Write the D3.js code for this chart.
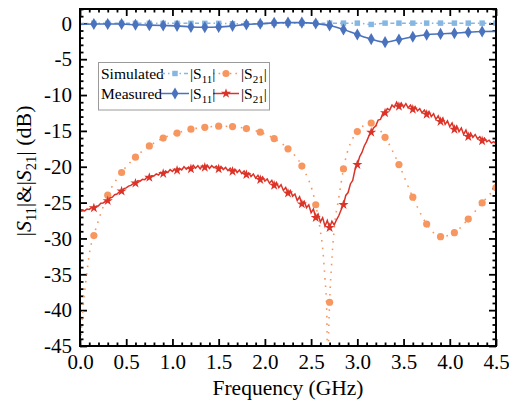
<!DOCTYPE html>
<html>
<head>
<meta charset="utf-8">
<script src="https://cdn.jsdelivr.net/npm/d3@7"></script>
<style>
  body { margin: 0; background: #fff; }
</style>
</head>
<body>
<div id="chart"></div>
<script>
// ---- data (GHz / dB) ----
const freqS11 = [0, 0.15, 0.3, 0.45, 0.6, 0.75, 0.9, 1.05, 1.2, 1.35, 1.5, 1.65, 1.8, 1.95, 2.1, 2.25,
  2.4, 2.55, 2.7, 2.85, 3.0, 3.15, 3.3, 3.45, 3.6, 3.75, 3.9, 4.05, 4.2, 4.35, 4.5];
const simS11 = [-0.05, 0, 0, 0, 0, 0, 0, 0, 0, 0, 0, -0.05, -0.05, -0.05, 0, 0,
  0, 0, 0.03, 0.03, 0.03, -0.15, 0.03, 0.03, 0.03, 0.03, 0.03, 0.03, 0.03, 0.03, 0.03];
const measS11 = [-0.15, -0.1, -0.1, -0.1, -0.2, -0.25, -0.3, -0.35, -0.5, -0.55, -0.5, -0.35, -0.15, -0.05, 0.07, 0.1,
  0.1, -0.03, -0.3, -0.87, -1.56, -2.2, -2.62, -2.26, -1.88, -1.6, -1.47, -1.37, -1.23, -1.14, -1.12];

const simS21Freq = [0, 0.011, 0.03, 0.065, 0.108, 0.15, 0.225, 0.3, 0.45, 0.6, 0.75, 0.9, 1.05, 1.2, 1.35, 1.5,
  1.65, 1.8, 1.95, 2.1, 2.25, 2.4, 2.55, 2.596, 2.625, 2.65, 2.669, 2.68, 2.69, 2.7, 2.72, 2.75,
  2.8, 2.85, 3.0, 3.15, 3.3, 3.45, 3.6, 3.75, 3.9, 4.05, 4.2, 4.35, 4.5];
const simS21 = [-52, -44.4, -40.2, -35.8, -31.6, -29.6, -26.5, -23.97, -20.8, -18.67, -17.1, -16.0, -15.3, -14.76, -14.5, -14.34,
  -14.4, -14.68, -15.18, -16.07, -17.5, -19.9, -25.3, -28.6, -31.4, -35.6, -40, -50, -43, -38.9, -33.9, -28.6,
  -24.3, -20.3, -15.1, -13.9, -15.9, -19.7, -24.25, -28.0, -29.75, -29.2, -27.3, -25.05, -22.9];

// measured |S21| sampled every 0.025 GHz from 0 to 4.5
const measS21Step = 0.025;
const measS21 = [
  -26.3, -26.1, -26.15, -25.9, -25.95, -25.7, -25.75, -25.5, -25.45, -25.1,
  -25.05, -24.85, -24.75, -24.35, -24.25, -23.9, -23.8, -23.5, -23.4, -23.05,
  -22.95, -22.7, -22.6, -22.35, -22.3, -21.95, -22.0, -21.75, -21.8, -21.45,
  -21.5, -21.25, -21.3, -21.0, -21.15, -20.75, -20.95, -20.6, -20.8, -20.4,
  -20.65, -20.3, -20.5, -20.2, -20.45, -20.0, -20.35, -20.05, -20.3, -19.8,
  -20.2, -19.85, -20.3, -19.8, -20.1, -19.75, -20.25, -19.85, -20.15, -19.9,
  -20.3, -19.95, -20.4, -20.1, -20.55, -20.2, -20.65, -20.35, -20.8, -20.45,
  -20.95, -20.6, -21.1, -20.85, -21.35, -21.0, -21.6, -21.2, -21.8, -21.4,
  -22.0, -21.7, -22.3, -21.9, -22.6, -22.2, -22.9, -22.5, -23.3, -22.9,
  -23.7, -23.3, -24.1, -23.8, -24.7, -24.2, -25.2, -24.8, -25.7, -25.3,
  -26.4, -25.9, -27.1, -26.6, -27.7, -27.1, -28.3, -27.5, -28.5, -27.6,
  -28.1, -27.4, -26.8, -26.0, -25.3, -24.0, -23.6, -22.4, -21.9, -20.4,
  -19.7, -18.6, -18.0, -17.1, -16.5, -15.7, -15.2, -14.6, -14.3, -13.5,
  -13.4, -12.6, -12.5, -11.9, -12.1, -11.4, -11.7, -11.0, -11.6, -11.1,
  -11.7, -11.2, -11.8, -11.4, -12.0, -11.6, -12.2, -11.9, -12.5, -12.1,
  -12.7, -12.3, -13.0, -12.6, -13.4, -12.9, -13.7, -13.2, -14.1, -13.6,
  -14.4, -13.9, -14.8, -14.3, -15.1, -14.6, -15.5, -14.9, -15.8, -15.3,
  -15.9, -15.5, -16.1, -15.8, -16.4, -16.0, -16.5, -16.3, -16.7, -16.5,
  -16.8
];

const xTicks = [0, 0.5, 1.0, 1.5, 2.0, 2.5, 3.0, 3.5, 4.0, 4.5];
const yTicks = [0, -5, -10, -15, -20, -25, -30, -35, -40, -45];

// ---- layout ----
const width = 509, height = 405;
const margin = { top: 9, right: 13, bottom: 59, left: 80 };
const innerW = width - margin.left - margin.right;
const innerH = height - margin.top - margin.bottom;
const FONT = "Liberation Serif";

const colSimS11 = "#86b6e2", colMeasS11 = "#4a72bd", colSimS21 = "#f8965f", colMeasS21 = "#dc3329";

const svg = d3.select("#chart").append("svg")
  .attr("width", width)
  .attr("height", height)
  .attr("font-family", FONT);

const x = d3.scaleLinear().domain([0, 4.5]).range([margin.left, margin.left + innerW]);
const y = d3.scaleLinear().domain([-45, 2]).range([margin.top + innerH, margin.top]);

const minorX = d3.range(0, 45.5, 1).map(d => d / 10).filter(d => !xTicks.some(t => Math.abs(t - d) < 1e-6));
const minorY = d3.range(-45, 3, 1).filter(d => d % 5 !== 0);

svg.append("clipPath").attr("id", "plot-clip")
  .append("rect")
  .attr("x", margin.left).attr("y", margin.top)
  .attr("width", innerW).attr("height", innerH);

// axes
function drawAxis(axis, tr, cls) {
  const g = svg.append("g").attr("class", cls).attr("transform", tr).call(axis);
  g.attr("font-family", FONT);
  g.select(".domain").remove();
  g.selectAll(".tick line").attr("stroke", "#000").attr("stroke-width", 1.8);
  g.selectAll("text").attr("font-family", FONT).attr("font-size", 21).attr("fill", "#000");
  return g;
}
const fmtX = d3.format(".1f");
const fmtY = d => String(d).replace("\u2212", "-");

drawAxis(d3.axisBottom(x).tickValues(xTicks).tickSize(-7).tickPadding(8).tickFormat(fmtX),
  `translate(0,${margin.top + innerH})`, "x-axis");
drawAxis(d3.axisBottom(x).tickValues(minorX).tickSize(-3.5).tickFormat(""),
  `translate(0,${margin.top + innerH})`, "x-minor");
drawAxis(d3.axisTop(x).tickValues(xTicks).tickSize(-7).tickFormat(""),
  `translate(0,${margin.top})`, "x-top");
drawAxis(d3.axisTop(x).tickValues(minorX).tickSize(-3.5).tickFormat(""),
  `translate(0,${margin.top})`, "x-top-minor");
drawAxis(d3.axisLeft(y).tickValues(yTicks).tickSize(-7).tickPadding(8).tickFormat(fmtY),
  `translate(${margin.left},0)`, "y-axis");
drawAxis(d3.axisLeft(y).tickValues(minorY).tickSize(-3.5).tickFormat(""),
  `translate(${margin.left},0)`, "y-minor");
drawAxis(d3.axisRight(y).tickValues(yTicks).tickSize(-7).tickFormat(""),
  `translate(${margin.left + innerW},0)`, "y-right");
drawAxis(d3.axisRight(y).tickValues(minorY).tickSize(-3.5).tickFormat(""),
  `translate(${margin.left + innerW},0)`, "y-right-minor");

// data
const plot = svg.append("g").attr("clip-path", "url(#plot-clip)");
const curve = d3.line().x(d => x(d[0])).y(d => y(d[1])).curve(d3.curveMonotoneX);
const onGrid = f => Math.abs(f / 0.15 - Math.round(f / 0.15)) < 1e-6;

const simS11Pts = freqS11.map((f, i) => [f, simS11[i]]);
const measS11Pts = freqS11.map((f, i) => [f, measS11[i]]);
const simS21Pts = simS21Freq.map((f, i) => [f, simS21[i]]);
const measS21Pts = measS21.map((v, i) => [i * measS21Step, v]);

function marks(pts, type, size, color) {
  plot.append("g").selectAll("path")
    .data(pts)
    .enter().append("path")
    .attr("d", d3.symbol().type(type).size(size))
    .attr("transform", d => `translate(${x(d[0])},${y(d[1])})`)
    .attr("fill", color);
}

// simulated |S11|
plot.append("path").datum(simS11Pts).attr("d", curve)
  .attr("fill", "none").attr("stroke", colSimS11).attr("stroke-width", 1.5)
  .attr("stroke-dasharray", "4,3,1.5,3");
marks(simS11Pts.filter(d => d[0] > 0), d3.symbolSquare, 30, colSimS11);

// simulated |S21|
plot.append("path").datum(simS21Pts).attr("d", curve)
  .attr("fill", "none").attr("stroke", colSimS21).attr("stroke-width", 1.6)
  .attr("stroke-dasharray", "1.6,6");
plot.append("g").selectAll("circle")
  .data(simS21Pts.filter(d => d[0] > 0 && onGrid(d[0])))
  .enter().append("circle")
  .attr("cx", d => x(d[0])).attr("cy", d => y(d[1])).attr("r", 3.6)
  .attr("fill", colSimS21);

// measured |S11|
plot.append("path").datum(measS11Pts).attr("d", curve)
  .attr("fill", "none").attr("stroke", colMeasS11).attr("stroke-width", 1.6);
marks(measS11Pts.filter(d => d[0] > 0 && d[0] < 4.5), d3.symbolDiamond, 42, colMeasS11);

// measured |S21|
plot.append("path").datum(measS21Pts).attr("d", d3.line().x(d => x(d[0])).y(d => y(d[1])))
  .attr("fill", "none").attr("stroke", colMeasS21).attr("stroke-width", 1.5);
marks(measS21Pts.filter(d => d[0] > 0 && d[0] < 4.49 && onGrid(d[0])), d3.symbolStar, 32, colMeasS21);

// frame
svg.append("rect")
  .attr("x", margin.left).attr("y", margin.top)
  .attr("width", innerW).attr("height", innerH)
  .attr("fill", "none").attr("stroke", "#000").attr("stroke-width", 2);

// axis titles
svg.append("text")
  .attr("x", margin.left + innerW / 2).attr("y", 395)
  .attr("text-anchor", "middle").attr("font-family", FONT).attr("font-size", 21.5)
  .text("Frequency (GHz)");

const yt = svg.append("text")
  .attr("transform", "translate(31,171) rotate(-90)")
  .attr("text-anchor", "middle").attr("font-family", FONT).attr("font-size", 22);
yt.append("tspan").text("|");
yt.append("tspan").attr("font-style", "italic").text("S");
yt.append("tspan").attr("font-size", 14.5).attr("dy", 5).text("11");
yt.append("tspan").attr("dy", -5).text("|&|");
yt.append("tspan").attr("font-style", "italic").text("S");
yt.append("tspan").attr("font-size", 14.5).attr("dy", 5).text("21");
yt.append("tspan").attr("dy", -5).text("| (dB)");

// legend
const lg = svg.append("g");
lg.append("rect").attr("x", 98.5).attr("y", 62.5).attr("width", 171).attr("height", 47.5)
  .attr("fill", "#fff").attr("stroke", "#9a9a9a").attr("stroke-width", 1);

function sLabel(xp, yp, sub) {
  const t = lg.append("text").attr("x", xp).attr("y", yp).attr("font-family", FONT).attr("font-size", 15.5);
  t.append("tspan").text("|S");
  t.append("tspan").attr("font-size", 11).attr("dy", 4).text(sub);
  t.append("tspan").attr("dy", -4).text("|");
}
const rows = [
  { label: "Simulated", yc: 73.5, a: colSimS11, b: colSimS21, dashA: "4,3,1.5,3", dashB: "1.6,4", sym: "sim" },
  { label: "Measured", yc: 93.5, a: colMeasS11, b: colMeasS21, dashA: null, dashB: null, sym: "meas" }
];
rows.forEach(r => {
  lg.append("text").attr("x", 101).attr("y", r.yc + 5).attr("font-family", FONT).attr("font-size", 15.5).text(r.label);
  lg.append("line").attr("x1", 161).attr("x2", 189).attr("y1", r.yc).attr("y2", r.yc)
    .attr("stroke", r.a).attr("stroke-width", 1.5).attr("stroke-dasharray", r.dashA);
  lg.append("line").attr("x1", 213).attr("x2", 239).attr("y1", r.yc).attr("y2", r.yc)
    .attr("stroke", r.b).attr("stroke-width", 1.5).attr("stroke-dasharray", r.dashB);
  if (r.sym === "sim") {
    lg.append("path").attr("d", d3.symbol().type(d3.symbolSquare).size(30))
      .attr("transform", `translate(175,${r.yc})`).attr("fill", r.a);
    lg.append("circle").attr("cx", 226).attr("cy", r.yc).attr("r", 3.6).attr("fill", r.b);
  } else {
    lg.append("path").attr("d", d3.symbol().type(d3.symbolDiamond).size(42))
      .attr("transform", `translate(175,${r.yc})`).attr("fill", r.a);
    lg.append("path").attr("d", d3.symbol().type(d3.symbolStar).size(32))
      .attr("transform", `translate(226,${r.yc})`).attr("fill", r.b);
  }
  sLabel(190, r.yc + 5, "11");
  sLabel(241, r.yc + 5, "21");
});
</script>
</body>
</html>
